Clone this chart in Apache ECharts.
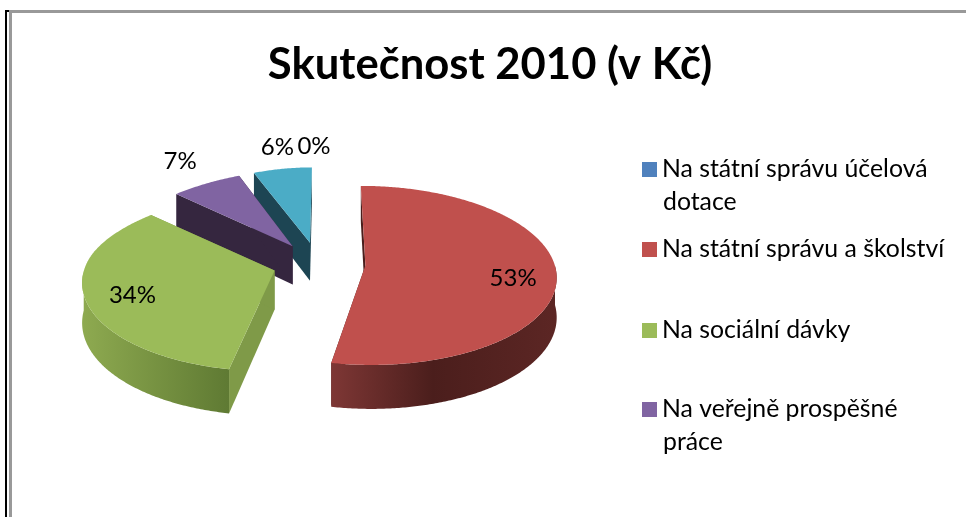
<!DOCTYPE html>
<html><head><meta charset="utf-8">
<style>html,body{margin:0;padding:0;background:#fff}#c{width:966px;height:517px}</style>
<script src="https://cdn.jsdelivr.net/npm/echarts@6/dist/echarts.min.js"></script>
</head><body><div id="c"></div>
<script>
const titleText = 'Skutečnost 2010 (v Kč)';
const categories = ['Na státní správu účelová dotace','Na státní správu a školství','Na sociální dávky','Na veřejně prospěšné práce','Ostatní'];
const values = [0, 53, 33.6, 7, 6.4];
const legendFirstLines = ['Na státní správu účelová','Na státní správu a školství','Na sociální dávky','Na veřejně prospěšné'];
const legendSecondLines = ['dotace','','','práce'];

const topColors = ['#4f81bd','#c0504d','#9bbb59','#8064a2','#4bacc6'];
const faceColors = ['#2a4565','#4a1e1c','#7f9a48','#35263f','#1d4553'];
const wallFrom = ['#2a4565','#7e3735','#8eaa50','#35263f','#1d4553'];
const wallMid = ['#2a4565','#4b1e1c','#5f7a33','#35263f','#1d4553'];
const labelRadius = [1.28,0.785,0.78,1.2,1.3];
const labelShift = [[-5,-2],[-2,6],[4,2],[-15,-11],[-1,-2]];
const legendTops = [157,237,318,397];
const legendSecondY = [202,0,0,442];

// Scene projection (tilted disc with mild perspective)
const Cx=319, Cy=263.5, Rx=189, Ry=88, K=0.11, FarLeft=0.1, Depth=39, Explode=0.246;
function project(X,Y,z){
  const w=1-K*Y;
  const squeeze=(X<0&&Y<0)?1/(1+FarLeft*Y*Y):1;
  return [Cx+Rx*X*squeeze/w, Cy+(Ry*Y+z*Depth)/w];
}
const total=values.reduce((a,b)=>a+b,0);
const starts=[];values.reduce((a,v,i)=>{starts[i]=a;return a+v;},0);

function renderSlice(i){return function(params,api){
  const v=api.value(0);
  const a0=starts[i]/total*2*Math.PI, a1=(starts[i]+v)/total*2*Math.PI, mid=(a0+a1)/2;
  const ox=Explode*Math.sin(mid), oy=-Explode*Math.cos(mid);
  const rim=a=>[ox+Math.sin(a),oy-Math.cos(a)];
  const n=Math.max(2,Math.ceil((a1-a0)/0.01));
  const pts=[],arc=[];
  for(let k=0;k<=n;k++){const a=a0+(a1-a0)*k/n;arc.push(a);pts.push(rim(a));}
  const children=[];
  if(v>0){
    const P=(p,z)=>project(p[0],p[1],z);
    const apex=[ox,oy];
    const face=p=>({type:'polygon',silent:true,shape:{points:[P(apex,0),P(p,0),P(p,1),P(apex,1)]},style:{fill:faceColors[i]}});
    children.push(face(pts[0]),face(pts[n]));
    const front=[];
    for(let k=0;k<=n;k++){if(Math.cos(arc[k])<=0)front.push(pts[k]);}
    if(front.length>1){
      const wall=front.map(p=>P(p,0)).concat(front.slice().reverse().map(p=>P(p,1)));
      const grad=i===1
        ? new echarts.graphic.LinearGradient(0,0,1,0,[{offset:0,color:wallFrom[i]},{offset:0.45,color:wallMid[i]},{offset:1,color:'#5c2624'}])
        : new echarts.graphic.LinearGradient(0,0,1,0,[{offset:0,color:wallFrom[i]},{offset:1,color:wallMid[i]}]);
      children.push({type:'polygon',silent:true,shape:{points:wall},style:{fill:grad}});
    }
    children.push({type:'polygon',silent:true,shape:{points:[P(apex,0)].concat(pts.map(p=>P(p,0)))},style:{fill:topColors[i]}});
  }
  const r=labelRadius[i];
  const lp=project(ox+r*Math.sin(mid),oy-r*Math.cos(mid),0);
  children.push({type:'text',silent:true,z2:100,style:{text:Math.round(v/total*100)+'%',x:lp[0]+labelShift[i][0],y:lp[1]+labelShift[i][1],
    fill:'#000',font:'24px Lato',align:'center',verticalAlign:'middle'}});
  return {type:'group',children};
};}

const drawOrder=[4,3,2,1,0];
const chart=echarts.init(document.getElementById('c'),null,{renderer:'canvas'});
const frame=[
  {x:5,y:10,w:2,h:507,c:'#000'},{x:5,y:10,w:5,h:2,c:'#000'},
  {x:9,y:10,w:3,h:507,c:'#999'},{x:9,y:10,w:957,h:3,c:'#999'}
];
chart.setOption({
  animation:false,
  backgroundColor:'#fff',
  title:{text:titleText,left:485,top:38,textAlign:'center',textStyle:{fontFamily:'Lato',fontWeight:'bold',fontSize:43.6,color:'#000'}},
  legend:legendFirstLines.map((t,i)=>({
    data:[categories[i]],left:642,top:legendTops[i],orient:'vertical',icon:'rect',itemWidth:15,itemHeight:15,padding:0,
    selectedMode:false,formatter:()=>t,textStyle:{fontFamily:'Lato',fontSize:24.8,color:'#000'}
  })),
  graphic:frame.map(f=>({type:'rect',silent:true,shape:{x:f.x,y:f.y,width:f.w,height:f.h},style:{fill:f.c}}))
    .concat(legendSecondLines.map((t,i)=>t?({type:'text',silent:true,style:{text:t,x:663,y:legendSecondY[i],fill:'#000',font:'24.8px Lato',verticalAlign:'middle'}}):null).filter(Boolean)),
  series:drawOrder.map(i=>({
    type:'custom',name:categories[i],coordinateSystem:'none',silent:true,
    itemStyle:{color:topColors[i]},data:[[values[i]]],renderItem:renderSlice(i)
  }))
});
</script></body></html>
